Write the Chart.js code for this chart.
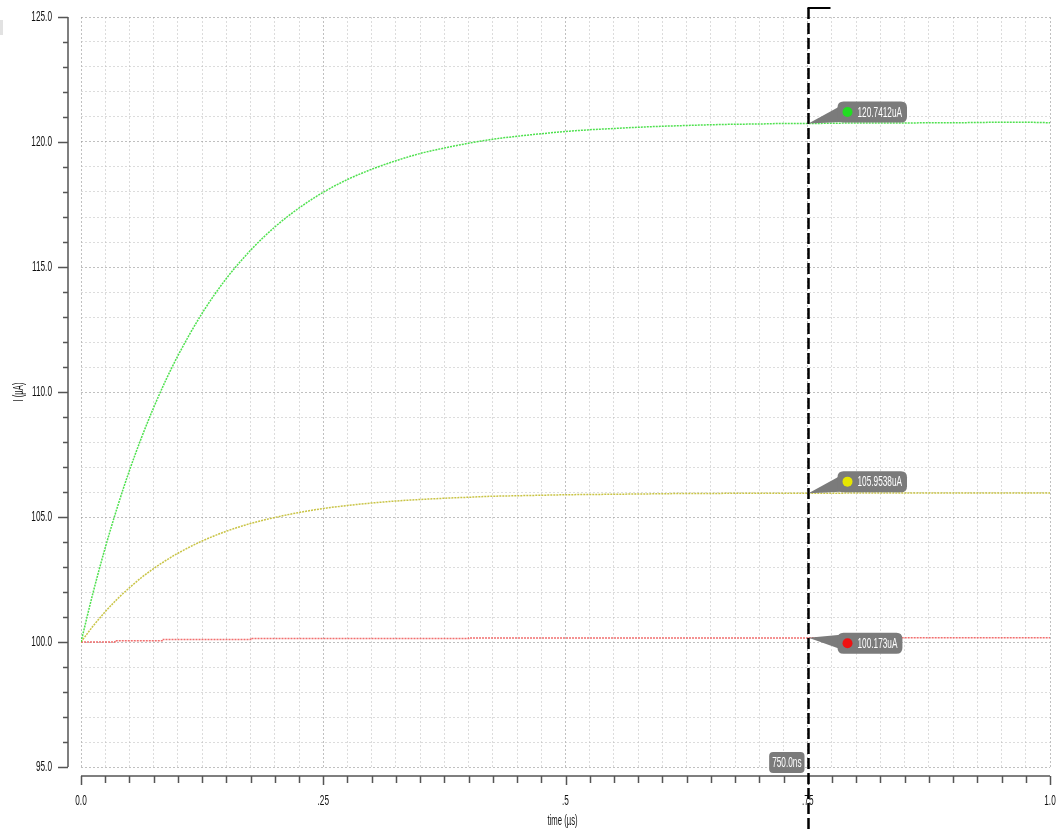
<!DOCTYPE html>
<html>
<head>
<meta charset="utf-8">
<script src="https://cdn.jsdelivr.net/npm/chart.js@4.4.1/dist/chart.umd.min.js"></script>
<style>
  html, body { margin: 0; padding: 0; background: #fff; }
  #wrap { width: 1058px; height: 829px; position: relative; }
</style>
</head>
<body>
<div id="wrap"><canvas id="chart" width="1058" height="829"></canvas></div>
<script>
// time axis in us, currents in uA
const times = [0, 0.0125, 0.025, 0.0375, 0.05, 0.0625, 0.075, 0.0875, 0.1, 0.125, 0.15, 0.175, 0.2, 0.225, 0.25,
	0.275, 0.3, 0.325, 0.35, 0.375, 0.4, 0.425, 0.45, 0.475, 0.5, 0.525, 0.55, 0.575, 0.6, 0.625, 0.65, 0.675,
	0.7, 0.725, 0.75, 0.775, 0.8, 0.825, 0.85, 0.875, 0.9, 0.925, 0.95, 0.975, 1.0];

const greenValues = [100.00, 101.98, 103.77, 105.39, 106.86, 108.18, 109.38, 110.47, 111.45, 113.15, 114.54,
	115.67, 116.60, 117.36, 117.99, 118.50, 118.91, 119.25, 119.54, 119.76, 119.95, 120.11, 120.23, 120.33,
	120.42, 120.49, 120.54, 120.59, 120.63, 120.66, 120.69, 120.71, 120.72, 120.74, 120.74, 120.75, 120.76,
	120.76, 120.76, 120.77, 120.77, 120.78, 120.79, 120.79, 120.77];

const yellowValues = [100.00, 100.64, 101.21, 101.72, 102.17, 102.58, 102.94, 103.26, 103.55, 104.04, 104.43,
	104.74, 104.98, 105.18, 105.34, 105.46, 105.56, 105.64, 105.70, 105.75, 105.79, 105.83, 105.85, 105.87,
	105.89, 105.90, 105.91, 105.92, 105.93, 105.94, 105.94, 105.95, 105.95, 105.95, 105.95, 105.95, 105.96,
	105.96, 105.96, 105.96, 105.96, 105.96, 105.96, 105.96, 105.96];

const redTimes = [0, 0.035, 0.085, 0.175, 0.4, 0.75, 1.0];
const redValues = [100.00, 100.05, 100.10, 100.14, 100.16, 100.173, 100.175];

const xTickLabels = ['0.0', '.25', '.5', '.75', '1.0'];
const yTickLabels = ['95.0', '100.0', '105.0', '110.0', '115.0', '120.0', '125.0'];
const xTitle = 'time (µs)';
const yTitle = 'I (µA)';

const cursorTime = 0.75;
const cursorText = '750.0ns';
const markerTexts = ['120.7412uA', '105.9538uA', '100.173uA'];
const markerValues = [120.7412, 105.9538, 100.173];
const markerColors = ['#22dd22', '#e6e600', '#ee1111'];

const FONT = "'Liberation Sans', Arial, sans-serif";
const SQUEEZE = 0.55;

function toPoints(xs, ys)
{
	return xs.map((t, i) => ({ x: t, y: ys[i] }));
}

function roundRect(ctx, x, y, w, h, r)
{
	ctx.beginPath();
	ctx.moveTo(x + r, y);
	ctx.lineTo(x + w - r, y);
	ctx.quadraticCurveTo(x + w, y, x + w, y + r);
	ctx.lineTo(x + w, y + h - r);
	ctx.quadraticCurveTo(x + w, y + h, x + w - r, y + h);
	ctx.lineTo(x + r, y + h);
	ctx.quadraticCurveTo(x, y + h, x, y + h - r);
	ctx.lineTo(x, y + r);
	ctx.quadraticCurveTo(x, y, x + r, y);
	ctx.closePath();
}

// narrow text, like the simulator's condensed font
function narrowText(ctx, text, x, y, align, angle)
{
	ctx.save();
	ctx.translate(x, y);
	if (angle)
		ctx.rotate(angle);
	ctx.scale(SQUEEZE, 1);
	ctx.textAlign = align;
	ctx.fillText(text, 0, 0);
	ctx.restore();
}

function narrowWidth(ctx, text)
{
	return ctx.measureText(text).width * SQUEEZE;
}

const axesPlugin = {
	id: 'axes',
	afterDraw(chart) {
		const ctx = chart.ctx;
		const x = chart.scales.x;
		const y = chart.scales.y;
		ctx.save();

		// little grey block top-left
		ctx.fillStyle = '#e2e2e2';
		ctx.fillRect(0, 20, 3, 15);

		ctx.strokeStyle = '#555';
		ctx.lineWidth = 1.5;

		// y axis, offset left of the plot
		let ax = y.right - 13;
		ctx.beginPath();
		ctx.moveTo(ax, y.top);
		ctx.lineTo(ax, y.bottom);
		y.ticks.forEach(t => {
			let py = Math.round(y.getPixelForValue(t.value)) + 0.5;
			let len = (Math.round(t.value) % 5 === 0) ? 10 : 5;
			ctx.moveTo(ax, py);
			ctx.lineTo(ax - len, py);
		});
		ctx.stroke();

		// x axis, offset below the plot
		let ay = x.top + 9;
		ctx.beginPath();
		ctx.moveTo(x.left, ay);
		ctx.lineTo(x.right, ay);
		x.ticks.forEach(t => {
			let px = Math.round(x.getPixelForValue(t.value)) + 0.5;
			let len = (Math.round(t.value * 40) % 10 === 0) ? 9 : 7;
			ctx.moveTo(px, ay);
			ctx.lineTo(px, ay + len);
		});
		ctx.stroke();

		// tick labels and titles
		ctx.fillStyle = '#111';
		ctx.font = '15px ' + FONT;
		ctx.textBaseline = 'middle';
		y.ticks.forEach(t => {
			let k = Math.round(t.value);
			if (k % 5 === 0)
				narrowText(ctx, yTickLabels[(k - 95) / 5], ax - 16, y.getPixelForValue(t.value), 'right');
		});
		x.ticks.forEach(t => {
			let k = Math.round(t.value * 40);
			if (k % 10 === 0)
				narrowText(ctx, xTickLabels[k / 10], x.getPixelForValue(t.value), ay + 25, 'center');
		});
		ctx.font = '14px ' + FONT;
		narrowText(ctx, xTitle, (x.left + x.right) / 2 - 3, ay + 45, 'center');
		narrowText(ctx, yTitle, 19, (y.top + y.bottom) / 2, 'center', -Math.PI / 2);

		// cursor
		let cx = Math.round(x.getPixelForValue(cursorTime)) + 0.5;
		ctx.strokeStyle = '#000';
		ctx.lineWidth = 2.5;
		ctx.setLineDash([11, 4]);
		ctx.beginPath();
		ctx.moveTo(cx, 8);
		ctx.lineTo(cx, chart.height);
		ctx.stroke();
		ctx.setLineDash([]);
		ctx.lineWidth = 2;
		ctx.beginPath();
		ctx.moveTo(cx - 1, 8);
		ctx.lineTo(cx + 22, 8);
		ctx.stroke();

		ctx.font = '15px ' + FONT;

		// marker bubbles
		markerValues.forEach((v, i) => {
			let py = y.getPixelForValue(v);
			let below = i === 2;
			let bx = cx + 29;
			let by = below ? py - 5 : py - 22;
			let bw = narrowWidth(ctx, markerTexts[i]) + 25;
			let bh = 21;
			ctx.fillStyle = '#7b7b7b';
			ctx.beginPath();
			if (below)
			{
				ctx.moveTo(cx, py);
				ctx.lineTo(bx + 14, by + 1);
				ctx.lineTo(bx + 2, by + bh - 5);
			}
			else
			{
				ctx.moveTo(cx, py);
				ctx.lineTo(bx + 2, by + 5);
				ctx.lineTo(bx + 14, by + bh - 1);
			}
			ctx.closePath();
			ctx.fill();
			roundRect(ctx, bx, by, bw, bh, 6);
			ctx.fill();
			ctx.fillStyle = markerColors[i];
			ctx.beginPath();
			ctx.arc(bx + 10, by + bh / 2, 5, 0, Math.PI * 2);
			ctx.fill();
			ctx.fillStyle = '#fff';
			narrowText(ctx, markerTexts[i], bx + 20, by + bh / 2 + 0.5, 'left');
		});

		// cursor time box
		let bw = narrowWidth(ctx, cursorText) + 6;
		ctx.fillStyle = '#7b7b7b';
		roundRect(ctx, cx - 4 - bw, y.bottom - 15, bw, 21, 4);
		ctx.fill();
		ctx.fillStyle = '#fff';
		narrowText(ctx, cursorText, cx - 4 - bw / 2, y.bottom - 4.5, 'center');

		ctx.restore();
	}
};

function gridColor(major)
{
	return major ? 'rgba(150,150,150,0.6)' : 'rgba(185,185,185,0.5)';
}

function noPadding(s)
{
	s.paddingLeft = 0;
	s.paddingRight = 0;
	s.paddingTop = 0;
	s.paddingBottom = 0;
}

new Chart(document.getElementById('chart').getContext('2d'), {
	type: 'line',
	data: {
		datasets: [
			{
				data: toPoints(times, greenValues),
				borderColor: 'rgba(60,222,60,0.9)',
				borderWidth: 1.5,
				borderDash: [2, 1],
				cubicInterpolationMode: 'monotone',
				pointRadius: 0,
			},
			{
				data: toPoints(times, yellowValues),
				borderColor: 'rgba(195,190,50,0.9)',
				borderWidth: 1.5,
				borderDash: [2, 1],
				cubicInterpolationMode: 'monotone',
				pointRadius: 0,
			},
			{
				data: toPoints(redTimes, redValues),
				borderColor: 'rgba(240,95,95,0.9)',
				borderWidth: 1.5,
				borderDash: [2, 1],
				stepped: true,
				pointRadius: 0,
			},
		],
	},
	options: {
		responsive: false,
		animation: false,
		events: [],
		layout: { padding: { top: 17, right: 8, left: 0, bottom: 0 } },
		plugins: { legend: { display: false }, tooltip: { enabled: false } },
		scales: {
			x: {
				type: 'linear',
				min: 0,
				max: 1,
				afterFit: s => { s.height = 62; noPadding(s); },
				grid: {
					drawTicks: false,
					lineWidth: 1,
					color: c => gridColor(Math.round(c.tick.value * 40) % 10 === 0),
				},
				border: { display: false, dash: [2, 2] },
				ticks: { stepSize: 0.025, autoSkip: false, display: false },
			},
			y: {
				min: 95,
				max: 125,
				afterFit: s => { s.width = 81; noPadding(s); },
				grid: {
					drawTicks: false,
					lineWidth: 1,
					color: c => gridColor(Math.round(c.tick.value) % 5 === 0),
				},
				border: { display: false, dash: [2, 2] },
				ticks: { stepSize: 1, autoSkip: false, display: false },
			},
		},
	},
	plugins: [axesPlugin],
});
</script>
</body>
</html>
